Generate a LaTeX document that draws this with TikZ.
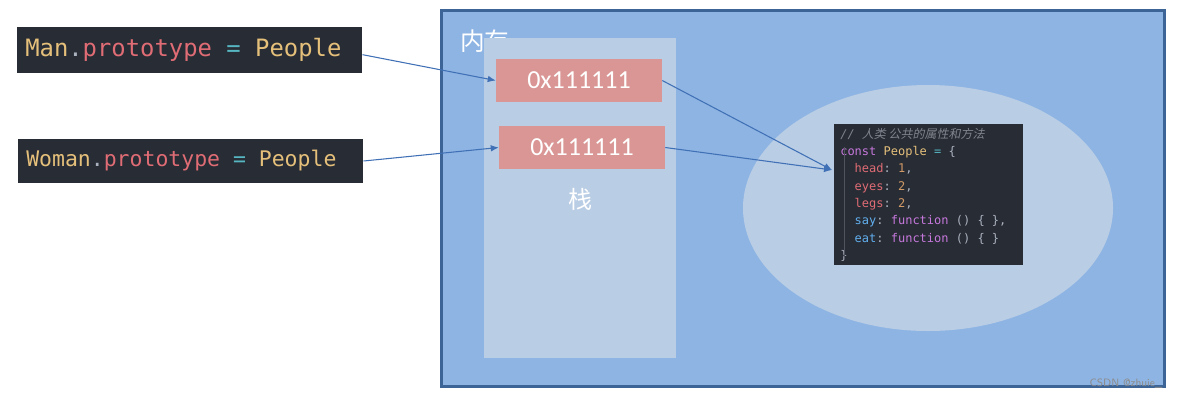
\documentclass[tikz,border=0pt]{standalone}
\usepackage{fontspec}
\setmainfont{Carlito}
\setmonofont{DejaVu Sans Mono}
\newfontfamily\cjk{Noto Sans CJK SC}
\newfontfamily\cjkit[FakeSlant=0.2]{Noto Sans CJK SC}
\usepackage{xcolor}
\usetikzlibrary{arrows.meta, positioning}

\definecolor{codebg}{HTML}{282C34}
\definecolor{cyel}{HTML}{E5C07B}
\definecolor{cred}{HTML}{E06C75}
\definecolor{ccyan}{HTML}{56B6C2}
\definecolor{cgray}{HTML}{ABB2BF}
\definecolor{cpurp}{HTML}{C678DD}
\definecolor{cblue}{HTML}{61AFEF}
\definecolor{corng}{HTML}{D19A66}
\definecolor{ccmt}{HTML}{7F848E}
\definecolor{memfill}{HTML}{8EB4E3}
\definecolor{memline}{HTML}{3D6497}
\definecolor{stackfill}{HTML}{B9CDE5}
\definecolor{addrfill}{HTML}{D99694}
\definecolor{arrowblue}{HTML}{4070B5}

\begin{document}
\begin{tikzpicture}[
    x=0.75pt, y=-0.75pt,
    monospace/.style={execute at begin node={\spaceskip=0pt\xspaceskip=0pt\relax}},
    codeline/.style={rectangle, fill=codebg, text width=246.75pt, inner xsep=6pt, align=left, monospace, anchor=west},
    addr/.style={rectangle, fill=addrfill, minimum width=124.5pt, minimum height=32.25pt, text=white, font=\fontsize{19.5}{22}\selectfont},
    ptr/.style={-{Latex[length=6pt, width=5pt]}, arrowblue, line width=0.8pt},
]
\useasboundingbox (0,0) rectangle (1180,401);

% memory area
\filldraw[fill=memfill, draw=memline, line width=2.25pt] (441,10) rectangle (1164,386);
\node[anchor=north west, text=white, inner sep=0pt, font=\cjk\fontsize{18.5}{20}\selectfont] (memtitle) at (460,30) {内存};

% stack
\fill[stackfill] (484,38) rectangle (676,358);
\node[addr] (addr1) at (579,80.5) {0x111111};
\node[addr] (addr2) at (582,147.5) {0x111111};
\node[text=white, font=\cjk\fontsize{18}{20}\selectfont] (stacklbl) at (580,199) {栈};

% heap
\fill[stackfill] (928,208) ellipse [x radius=185, y radius=123];
\node[rectangle, fill=codebg, anchor=north west, minimum width=141.75pt, minimum height=105.75pt,
      text width=132.75pt, inner xsep=4.5pt, inner ysep=1pt, align=left, monospace,
      font=\ttfamily\fontsize{9}{13}\selectfont, text=cgray] (people) at (834,124)
  {\textcolor{ccmt}{\textit{//} \cjkit 人类 公共的属性和方法}\\
   \textcolor{cpurp}{const} \textcolor{cyel}{People} \textcolor{ccyan}{=} \{\\
   \ \ \textcolor{cred}{head}: \textcolor{corng}{1},\\
   \ \ \textcolor{cred}{eyes}: \textcolor{corng}{2},\\
   \ \ \textcolor{cred}{legs}: \textcolor{corng}{2},\\
   \ \ \textcolor{cblue}{say}: \textcolor{cpurp}{function} () \{ \},\\
   \ \ \textcolor{cblue}{eat}: \textcolor{cpurp}{function} () \{ \}\\
   \}};
\draw[color=codebg!70!cgray, line width=0.4pt] (844,147) -- (844,257);
\coordinate (heapin) at (832,170);

% code on the left
\node[codeline, minimum height=34.5pt, font=\ttfamily\fontsize{17.9}{20}\selectfont] (man) at (17,50)
  {\textcolor{cyel}{Man}\textcolor{cgray}{.}\textcolor{cred}{prototype} \textcolor{ccyan}{=} \textcolor{cyel}{People}};
\node[codeline, minimum height=33pt, font=\ttfamily\fontsize{16.1}{19}\selectfont] (woman) at (18,161)
  {\textcolor{cyel}{Woman}\textcolor{cgray}{.}\textcolor{cred}{prototype} \textcolor{ccyan}{=} \textcolor{cyel}{People}};

\draw[ptr] ([yshift=-3.5pt]man.east) -- (addr1.west);
\draw[ptr] (woman.east) -- (addr2.west);
\draw[ptr] (addr1.east) -- (heapin);
\draw[ptr] (addr2.east) -- (heapin);

\node[text=black!45, font=\sffamily\fontsize{8}{9}\selectfont] (mark) at (1126,384) {CSDN @zhuie\_};
\end{tikzpicture}
\end{document}
